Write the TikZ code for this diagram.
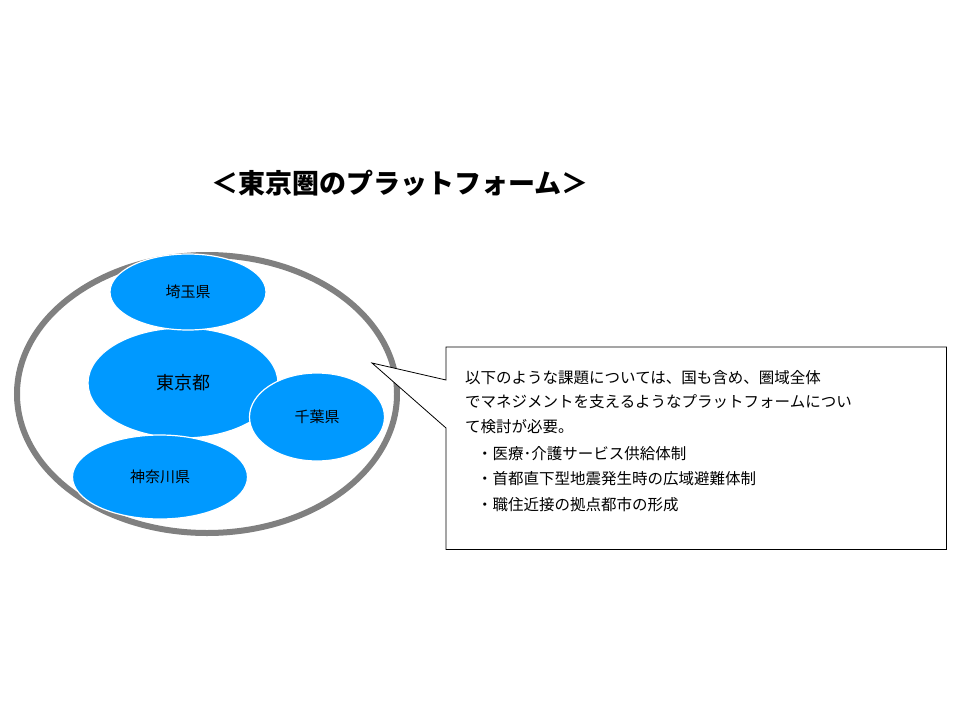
\documentclass[tikz,border=0pt]{standalone}
\usepackage{fontspec}
\setmainfont{Noto Sans CJK JP}
\usetikzlibrary{positioning,calc,shapes.geometric}
\definecolor{prefblue}{HTML}{0099FF}
\definecolor{ringgray}{HTML}{808080}
\tikzset{
    pref/.style={ellipse, fill=prefblue, draw=white, line width=1.2pt, inner sep=0pt, font=\fontsize{15}{18}\selectfont},
}
\begin{document}
\begin{tikzpicture}[x=1pt, y=-1pt]
    \useasboundingbox (0,0) rectangle (960,720);
    \node (title) at (400,183) {\fontsize{27}{30}\selectfont\bfseries ＜東京圏のプラットフォーム＞};
    \draw[ringgray, line width=6pt] (207,394) ellipse [x radius=190, y radius=139];
    \node[pref, minimum width=190pt, minimum height=110pt, font=\fontsize{18}{20}\selectfont] (tokyo) at (183,383) {東京都};
    \node[pref, minimum width=156pt, minimum height=76pt] (saitama) at (188,292) {埼玉県};
    \node[pref, minimum width=135pt, minimum height=88pt] (chiba) at (317,417) {千葉県};
    \node[pref, minimum width=175pt, minimum height=84pt] (kanagawa) at (160,477) {神奈川県};
    % callout
    \coordinate (tip) at (372,363);
    \node[anchor=north west, minimum width=500pt, minimum height=202pt, inner sep=0pt] (note) at (446,347) {};
    \draw[fill=white, line width=0.8pt] (note.north west) -- (note.north east) -- (note.south east)
        -- (note.south west) -- ($(note.north west)+(0,81)$) -- (tip) -- ($(note.north west)+(0,33)$) -- cycle;
    \node[anchor=north west, align=left, inner sep=0pt, font=\fontsize{15.5}{24.5}\selectfont] (notetext) at (465,370)
        {以下のような課題については、国も含め、圏域全体\\でマネジメントを支えるようなプラットフォームについ\\て検討が必要。};
    \node[align=left, inner sep=0pt, font=\fontsize{15.5}{25.5}\selectfont, below=12pt of notetext.south west, anchor=north west, xshift=12pt] (issues)
        {・医療･介護サービス供給体制\\・首都直下型地震発生時の広域避難体制\\・職住近接の拠点都市の形成};
\end{tikzpicture}
\end{document}
